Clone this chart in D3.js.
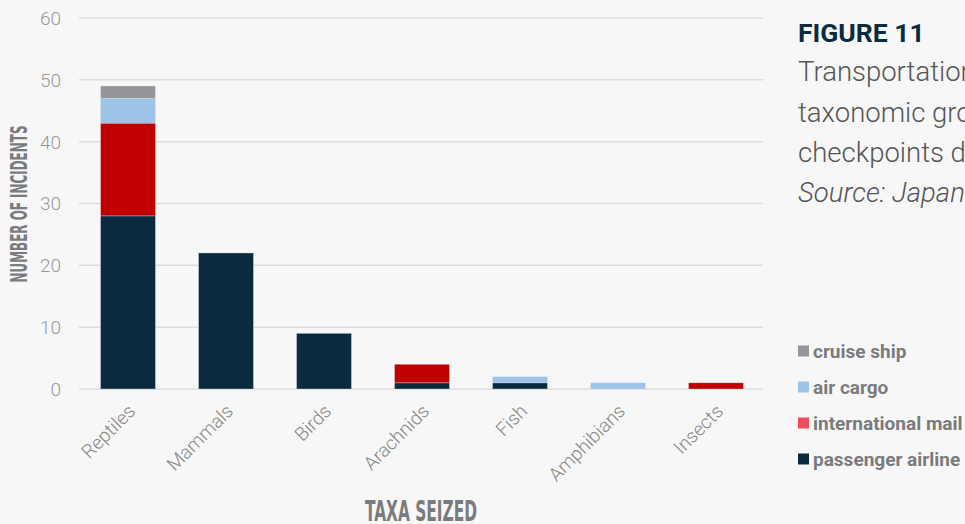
<!DOCTYPE html>
<html>
<head>
<meta charset="utf-8">
<script src="https://cdn.jsdelivr.net/npm/d3@7"></script>
<style>
  html, body { margin: 0; padding: 0; background: #f7f7f7; overflow: hidden; }
  svg { display: block; }
</style>
</head>
<body>
<div id="chart"></div>
<script>
// Figure 11 — stacked bars: seizure incidents by taxon and transport mode.

const taxa = ["Reptiles", "Mammals", "Birds", "Arachnids", "Fish", "Amphibians", "Insects"];
const passengerAirline = [28, 22, 9, 1, 1, 0, 0];
const internationalMail = [15, 0, 0, 3, 0, 0, 1];
const airCargo = [4, 0, 0, 0, 1, 1, 0];
const cruiseShip = [2, 0, 0, 0, 0, 0, 0];
const yTicks = [0, 10, 20, 30, 40, 50, 60];

const series = [
  { key: "passenger airline", values: passengerAirline, color: "#0a2a3e", swatch: "#0a2a3e" },
  { key: "international mail", values: internationalMail, color: "#c00000", swatch: "#ef4b5a" },
  { key: "air cargo", values: airCargo, color: "#9dc3e6", swatch: "#9dc3e6" },
  { key: "cruise ship", values: cruiseShip, color: "#939598", swatch: "#939598" },
];

const W = 965, H = 524;
const svg = d3.select("#chart").append("svg").attr("width", W).attr("height", H);
svg.append("rect").attr("width", W).attr("height", H).attr("fill", "#f7f7f7");

const x = d3.scaleBand().domain(taxa).range([79, 765]).paddingInner(0.44).paddingOuter(0.22);
const y = d3.scaleLinear().domain([0, 60]).range([389, 18]);

// grid
svg.append("g").selectAll("line").data(yTicks).join("line")
  .attr("x1", 79).attr("x2", 763)
  .attr("y1", (d) => y(d)).attr("y2", (d) => y(d))
  .attr("stroke", "#dcdcdc").attr("stroke-width", 1.5);

// y tick labels
svg.append("g").selectAll("text").data(yTicks).join("text")
  .attr("x", 61).attr("y", (d) => y(d)).attr("dy", "0.36em")
  .attr("text-anchor", "end")
  .style("font-family", "Roboto, sans-serif").style("font-weight", 300)
  .style("font-size", "19px").attr("fill", "#999")
  .text((d) => d);

// stacks
const rows = taxa.map((t, i) => {
  const r = { taxon: t };
  series.forEach((s) => { r[s.key] = s.values[i]; });
  return r;
});
const stack = d3.stack().keys(series.map((s) => s.key))(rows);
svg.append("g").selectAll("g").data(stack).join("g")
  .attr("fill", (d, i) => series[i].color)
  .selectAll("rect").data((d) => d.filter((p) => p[1] - p[0] > 0)).join("rect")
  .attr("x", (d) => x(d.data.taxon))
  .attr("width", x.bandwidth())
  .attr("y", (d) => y(d[1]))
  .attr("height", (d) => y(d[0]) - y(d[1]))
  .attr("stroke", "rgba(220,230,240,0.6)").attr("stroke-width", 0.6);

// x labels rotated
svg.append("g").selectAll("text").data(taxa).join("text")
  .attr("transform", (d) => `translate(${x(d) + x.bandwidth() / 2 - 1},${403}) rotate(-45)`)
  .attr("text-anchor", "end").attr("dy", "0.7em")
  .style("font-family", "Roboto, sans-serif").style("font-weight", 300)
  .style("font-size", "19px").attr("fill", "#888")
  .text((d) => d);

// axis titles
svg.append("text")
  .attr("transform", "translate(27,204) rotate(-90)")
  .attr("text-anchor", "middle")
  .style("font-family", "'DejaVu Sans', sans-serif").style("font-stretch", "condensed")
  .style("font-weight", 700).style("font-size", "23px").attr("fill", "#7a7b7d")
  .attr("textLength", 157).attr("lengthAdjust", "spacingAndGlyphs")
  .text("NUMBER OF INCIDENTS");

svg.append("text")
  .attr("x", 421).attr("y", 521).attr("text-anchor", "middle")
  .style("font-family", "'DejaVu Sans', sans-serif").style("font-stretch", "condensed")
  .style("font-weight", 700).style("font-size", "28px").attr("fill", "#7a7b7d")
  .attr("textLength", 112).attr("lengthAdjust", "spacingAndGlyphs")
  .text("TAXA SEIZED");

// caption
svg.append("text").attr("x", 798).attr("y", 42)
  .style("font-family", "Roboto, sans-serif").style("font-weight", 700)
  .style("font-size", "26.5px").attr("fill", "#0a2a3e")
  .text("FIGURE 11");

const captionLines = [
  "Transportation mode by",
  "taxonomic group at customs",
  "checkpoints during the period",
];
svg.append("g").selectAll("text").data(captionLines).join("text")
  .attr("x", 798).attr("y", (d, i) => 81 + i * 40.5)
  .style("font-family", "Roboto, sans-serif").style("font-weight", 300)
  .style("font-size", "27.5px").attr("fill", "#555")
  .text((d) => d);
svg.append("text").attr("x", 798).attr("y", 202)
  .style("font-family", "Roboto, sans-serif").style("font-weight", 300).style("font-style", "italic")
  .style("font-size", "27.5px").attr("fill", "#555")
  .text("Source: Japan Customs");

// legend (top entry is last series)
const legend = svg.append("g").selectAll("g").data(series.slice().reverse()).join("g")
  .attr("transform", (d, i) => `translate(798,${351 + i * 36})`);
legend.append("rect").attr("x", 0).attr("y", -5.5).attr("width", 11).attr("height", 11)
  .attr("fill", (d) => d.swatch);
legend.append("text").attr("x", 15).attr("dy", "0.36em")
  .style("font-family", "Roboto, sans-serif").style("font-weight", 700)
  .style("font-size", "19px").attr("fill", "#7a7b7d")
  .text((d) => d.key);
</script>
</body>
</html>
